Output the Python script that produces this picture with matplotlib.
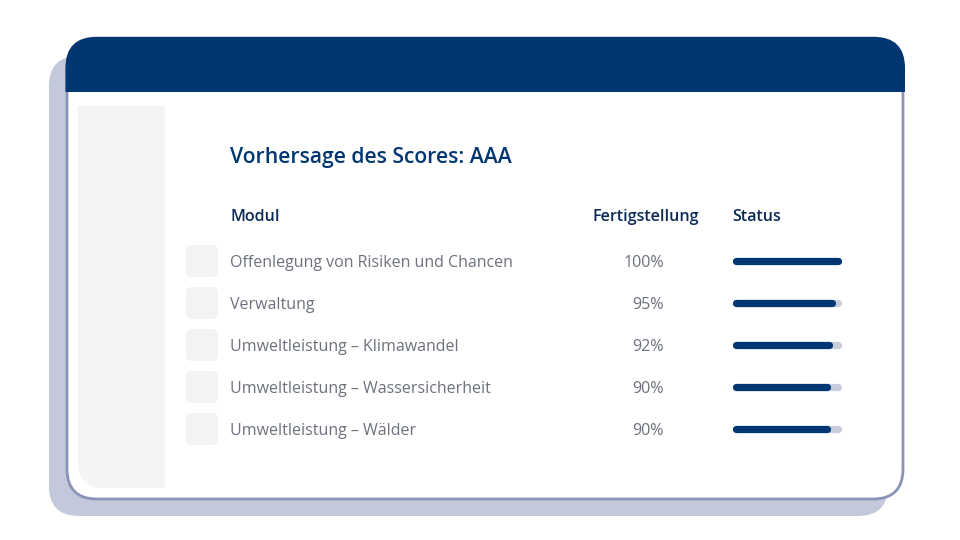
import matplotlib.pyplot as plt
from matplotlib.patches import FancyBboxPatch, Rectangle

plt.rcParams['font.family'] = ['Open Sans', 'DejaVu Sans']

title = 'Vorhersage des Scores: AAA'
columns = ['Modul', 'Fertigstellung', 'Status']
modules = ['Offenlegung von Risiken und Chancen', 'Verwaltung',
           'Umweltleistung – Klimawandel', 'Umweltleistung – Wassersicherheit',
           'Umweltleistung – Wälder']
completion = [100, 95, 92, 90, 90]

navy = '#003671'
grey_text = '#6c717c'

fig = plt.figure(figsize=(9.6, 5.4), dpi=100)
ax = fig.add_axes([0, 0, 1, 1])
ax.set_xlim(0, 960)
ax.set_ylim(540, 0)
ax.axis('off')


def rbox(x0, y0, x1, y1, r, **kw):
    p = FancyBboxPatch((x0, y0), x1 - x0, y1 - y0,
                       boxstyle='round,pad=0,rounding_size=%s' % r, **kw)
    ax.add_patch(p)
    return p


# shadow card
rbox(49, 56, 888, 516, 30, fc='#c3c8da', ec='none', zorder=1)
# main card
rbox(67, 38, 903, 499, 30, fc='white', ec='#8a93b8', lw=2, zorder=2)
# header band, only the top part of a rounded box
head = rbox(65.5, 37, 905, 140, 31, fc=navy, ec='none', zorder=3)
head.set_clip_path(Rectangle((0, 0), 960, 92, transform=ax.transData))
# sidebar
side = rbox(78, 60, 220, 488, 26, fc='#f4f4f4', ec='none', zorder=3)
side.set_clip_path(Rectangle((78, 106), 87, 400, transform=ax.transData))

# title
ax.text(230, 158, title, fontsize=15.2, fontweight='semibold', color=navy,
        va='center', ha='left', zorder=5)

# column headers
hy = 217
hdr = dict(fontsize=11.6, fontweight='semibold', color='#0b2a57', va='center', zorder=5)
ax.text(230, hy, columns[0], ha='left', **hdr)
ax.text(646, hy, columns[1], ha='center', **hdr)
ax.text(732, hy, columns[2], ha='left', **hdr)

# rows
bar_x0, bar_x1 = 735.5, 837.5
for i, (name, pct) in enumerate(zip(modules, completion)):
    y = 261 + i * 42
    rbox(186, y - 16, 218, y + 16, 6, fc='#f3f3f3', ec='none', zorder=4)
    ax.text(230, y + 2, name, fontsize=11.5, color=grey_text, va='center',
            ha='left', zorder=5)
    ax.text(664, y + 2, '%d%%' % pct, fontsize=11.6, color=grey_text, va='center',
            ha='right', zorder=5)
    ax.plot([bar_x0, bar_x1], [y - 0.5, y - 0.5], color='#c8cddd', lw=5.2,
            solid_capstyle='round', zorder=5)
    ax.plot([bar_x0, bar_x0 + (bar_x1 - bar_x0) * pct / 100], [y - 0.5, y - 0.5],
            color=navy, lw=5.2, solid_capstyle='round', zorder=6)

fig.savefig('out.png', dpi=100)
